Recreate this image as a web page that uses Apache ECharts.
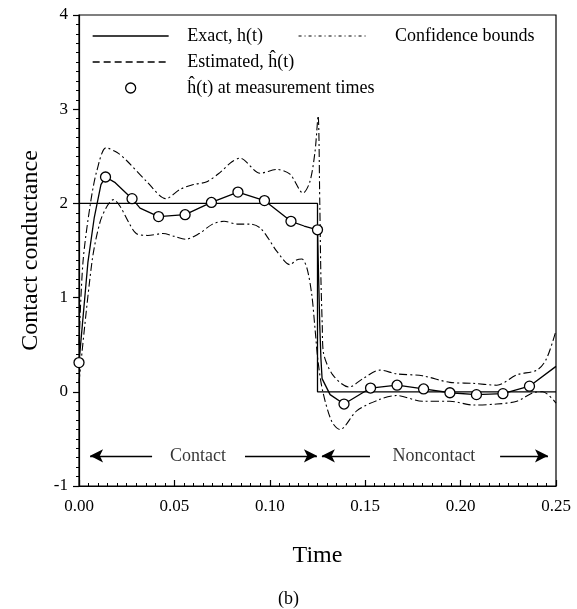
<!DOCTYPE html>
<html>
<head>
<meta charset="utf-8">
<script src="https://cdn.jsdelivr.net/npm/echarts@6/dist/echarts.min.js"></script>
<style>
html,body{margin:0;padding:0;background:#fff;}
#c{width:577px;height:609px;}
</style>
</head>
<body>
<div id="c"></div>
<script>
// ---- data ----
var exactT = [0, 0.125, 0.125, 0.25];
var exactH = [2, 2, 0, 0];

var estT = [0, 0.0047, 0.008, 0.0115, 0.0139, 0.019, 0.0278, 0.032, 0.0417, 0.0556, 0.0694, 0.0833, 0.0972, 0.1111, 0.118, 0.125, 0.1256, 0.1262, 0.1268, 0.1274, 0.1316, 0.1389, 0.1528, 0.1667, 0.1806, 0.1944, 0.2083, 0.2222, 0.2361, 0.25];
var estH = [0.31, 1.38, 1.85, 2.2, 2.28, 2.22, 2.05, 1.95, 1.86, 1.88, 2.01, 2.12, 2.03, 1.81, 1.76, 1.72, 1.2, 0.7, 0.35, 0.14, -0.03, -0.13, 0.04, 0.07, 0.03, -0.01, -0.03, -0.02, 0.06, 0.27];

var measT = [0, 0.0139, 0.0278, 0.0417, 0.0556, 0.0694, 0.0833, 0.0972, 0.1111, 0.125, 0.1389, 0.1528, 0.1667, 0.1806, 0.1944, 0.2083, 0.2222, 0.2361];
var measH = [0.31, 2.28, 2.05, 1.86, 1.88, 2.01, 2.12, 2.03, 1.81, 1.72, -0.13, 0.04, 0.07, 0.03, -0.01, -0.03, -0.02, 0.06];

var upT = [0, 0.0021, 0.006, 0.0094, 0.0142, 0.02, 0.0252, 0.0356, 0.0456, 0.053, 0.06, 0.067, 0.074, 0.08, 0.0844, 0.0949, 0.1038, 0.1106, 0.1174, 0.121, 0.1237, 0.1253, 0.1262, 0.1268, 0.1275, 0.128, 0.133, 0.1415, 0.1488, 0.1577, 0.1666, 0.18, 0.1944, 0.2065, 0.219, 0.2295, 0.24, 0.245, 0.25];
var upH = [0.5, 1.38, 2.0, 2.35, 2.59, 2.54, 2.45, 2.23, 2.05, 2.15, 2.2, 2.23, 2.33, 2.44, 2.48, 2.32, 2.36, 2.31, 2.11, 2.23, 2.55, 2.93, 2.0, 1.2, 0.7, 0.43, 0.18, 0.05, 0.14, 0.23, 0.19, 0.17, 0.1, 0.09, 0.07, 0.18, 0.23, 0.35, 0.65];

var loT = [0, 0.0068, 0.011, 0.015, 0.018, 0.0215, 0.026, 0.03, 0.036, 0.044, 0.05, 0.056, 0.063, 0.07, 0.076, 0.083, 0.09, 0.0949, 0.0995, 0.1037, 0.1106, 0.114, 0.1168, 0.1195, 0.122, 0.1237, 0.1253, 0.1278, 0.1326, 0.1368, 0.1457, 0.1577, 0.1666, 0.18, 0.1944, 0.2065, 0.219, 0.2295, 0.238, 0.243, 0.25];
var loH = [0.1, 1.38, 1.8, 1.98, 2.04, 1.97, 1.8, 1.68, 1.66, 1.68, 1.65, 1.62, 1.68, 1.78, 1.81, 1.78, 1.78, 1.74, 1.62, 1.49, 1.35, 1.4, 1.41, 1.31, 1.03, 0.67, 0.32, 0.0, -0.32, -0.4, -0.2, -0.08, -0.04, -0.1, -0.1, -0.14, -0.13, -0.1, -0.01, 0.0, -0.12];

var xTicks = [0, 0.05, 0.10, 0.15, 0.20, 0.25];
var yTicks = [-1, 0, 1, 2, 3, 4];

var regionNames = ['Contact', 'Noncontact'];
var regionX = [0.0624, 0.186];
var regionY = -0.68;
// arrows: [tail x, tip x]
var arrowTail = [0.0383, 0.087, 0.1525, 0.2207];
var arrowTip = [0.0058, 0.1247, 0.1273, 0.2458];

var NAME_EXACT = 'Exact, h(t)';
var NAME_EST = 'Estimated, \u0125(t)';
var NAME_MEAS = '\u0125(t) at measurement times';
var NAME_CB = 'Confidence bounds';

function zip(a, b) { return a.map(function (v, i) { return [v, b[i]]; }); }

var FONT = '"Liberation Serif", "DejaVu Serif", serif';
var chart = echarts.init(document.getElementById('c'), null, {renderer: 'canvas'});

var arrowData = arrowTail.map(function (t, i) {
  return [{coord: [t, regionY]}, {coord: [arrowTip[i], regionY]}];
});

var hideSym = {opacity: 0};

var option = {
  animation: false,
  backgroundColor: '#fff',
  textStyle: {fontFamily: FONT, color: '#000'},
  grid: {left: 79, right: 21, top: 15, bottom: 123, show: true, borderColor: '#000', borderWidth: 1.2, backgroundColor: 'transparent'},
  title: {
    text: '(b)', left: 'center', top: 585,
    textStyle: {fontFamily: FONT, fontSize: 18, fontWeight: 'normal', color: '#000'}
  },
  legend: [{
    orient: 'vertical', left: 87, top: 22, itemWidth: 76, itemHeight: 10, itemGap: 8,
    textStyle: {fontFamily: FONT, fontSize: 18, color: '#000'},
    formatter: function (n) { return '   ' + n; },
    data: [
      {name: NAME_EXACT, itemStyle: hideSym, lineStyle: {type: 'solid', width: 1.3, color: '#000'}},
      {name: NAME_EST, itemStyle: hideSym, lineStyle: {type: [7, 4], width: 1.3, color: '#000'}},
      {name: NAME_MEAS, itemStyle: {color: '#fff', borderColor: '#000', borderWidth: 1.3, opacity: 1}}
    ]
  }, {
    orient: 'vertical', left: 293, top: 22, itemWidth: 69, itemHeight: 10,
    textStyle: {fontFamily: FONT, fontSize: 18, color: '#000'},
    formatter: function (n) { return '     ' + n; },
    data: [{name: NAME_CB, itemStyle: hideSym, lineStyle: {type: [3, 3, 1, 3], width: 1.1, color: '#000'}}]
  }],
  xAxis: {
    type: 'value', min: 0, max: 0.25, interval: 0.05,
    name: 'Time', nameLocation: 'middle', nameGap: 58,
    nameTextStyle: {fontFamily: FONT, fontSize: 24, color: '#000'},
    axisLine: {onZero: false, lineStyle: {color: '#000', width: 1.2}},
    axisTick: {inside: true, length: 6, lineStyle: {color: '#000', width: 1.2}},
    minorTick: {show: true, splitNumber: 10, length: 3, lineStyle: {color: '#000', width: 1}},
    splitLine: {show: false},
    axisLabel: {margin: 12, fontFamily: FONT, fontSize: 17, color: '#000',
      formatter: function (v) { return v.toFixed(2); }},
    data: xTicks
  },
  yAxis: {
    type: 'value', min: -1, max: 4, interval: 1,
    name: 'Contact conductance', nameLocation: 'middle', nameGap: 36,
    nameTextStyle: {fontFamily: FONT, fontSize: 24, color: '#000'},
    axisLine: {show: true, onZero: false, lineStyle: {color: '#000', width: 1.2}},
    axisTick: {show: true, inside: false, length: 6, lineStyle: {color: '#000', width: 1.2}},
    minorTick: {show: true, splitNumber: 10, length: 3, lineStyle: {color: '#000', width: 1}},
    splitLine: {show: false},
    axisLabel: {margin: 11, fontFamily: FONT, fontSize: 17, color: '#000'}
  },
  series: [
    {
      name: NAME_EXACT, type: 'line', data: zip(exactT, exactH), symbol: 'none',
      lineStyle: {color: '#000', width: 1.3}, itemStyle: {color: '#000'}, z: 3
    },
    {
      name: NAME_EST, type: 'line', data: zip(estT, estH), symbol: 'none', smooth: false,
      lineStyle: {color: '#000', width: 1.3}, itemStyle: {color: '#000'}, z: 4
    },
    {
      name: NAME_MEAS, type: 'scatter', data: zip(measT, measH), symbol: 'circle', symbolSize: 10,
      itemStyle: {color: '#fff', borderColor: '#000', borderWidth: 1.3, opacity: 1}, z: 6
    },
    {
      name: NAME_CB, type: 'line', data: zip(upT, upH), symbol: 'none', smooth: 0.3,
      lineStyle: {color: '#000', width: 1.1, type: [8, 3, 2, 3]}, itemStyle: {color: '#000'}, z: 2
    },
    {
      name: NAME_CB, type: 'line', data: zip(loT, loH), symbol: 'none', smooth: 0.3,
      lineStyle: {color: '#000', width: 1.1, type: [8, 3, 2, 3]}, itemStyle: {color: '#000'}, z: 2
    },
    {
      name: 'regions', type: 'scatter', symbolSize: 0, silent: true,
      data: regionNames.map(function (n, i) { return {name: n, value: [regionX[i], regionY]}; }),
      label: {show: true, position: 'inside', formatter: '{b}', fontFamily: FONT, fontSize: 18, color: '#000'},
      markLine: {
        silent: true, symbol: ['none', 'arrow'], symbolSize: [10, 13],
        lineStyle: {color: '#000', width: 1.3, type: 'solid'},
        label: {show: false},
        data: arrowData
      }
    }
  ]
};
chart.setOption(option);
</script>
</body>
</html>
